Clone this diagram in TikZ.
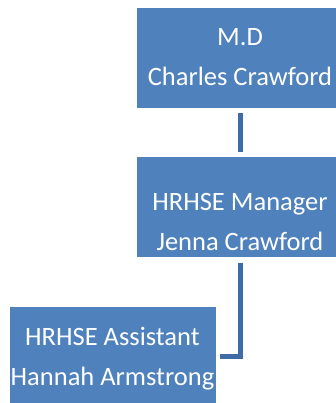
\documentclass[tikz,border=0pt]{standalone}
\usepackage{fontspec}
\setmainfont{Carlito}
\definecolor{boxblue}{HTML}{4F81BD}
\definecolor{linkblue}{HTML}{3F6BA6}
\begin{document}
\begin{tikzpicture}[x=1pt,y=-1pt,
  orgbox/.style={draw=none, fill=boxblue, minimum width=206pt, minimum height=99.4pt, inner sep=0pt, anchor=north west},
  boxtxt/.style={text=white, font=\fontsize{26.5}{31}\selectfont, anchor=base, inner sep=0pt},
  link/.style={draw=linkblue, line width=5pt, line cap=butt, line join=miter}]
\useasboundingbox (0,0) rectangle (335,403);
\node[orgbox] (md) at (137,8.3) {};
\node[orgbox] (mgr) at (137,157.3) {};
\node[orgbox] (asst) at (10,306.7) {};
\node[boxtxt] (mda) at (240,46) {M.D};
\node[boxtxt] (mdb) at (240,86) {Charles Crawford};
\node[boxtxt] (mgra) at (240,210) {HRHSE Manager};
\node[boxtxt] (mgrb) at (240,250) {Jenna Crawford};
\node[boxtxt] (assta) at (112.5,345) {HRHSE Assistant};
\node[boxtxt] (asstb) at (112.5,385) {Hannah Armstrong};
\coordinate (c1) at (240,113.3);
\coordinate (c2) at (240,152.3);
\coordinate (c3) at (240,263.3);
\coordinate (c4) at (240,356.5);
\coordinate (c5) at (220,356.5);
\draw[link] (c1) -- (c2);
\draw[link] (c3) -- (c4) -- (c5);
\end{tikzpicture}
\end{document}
